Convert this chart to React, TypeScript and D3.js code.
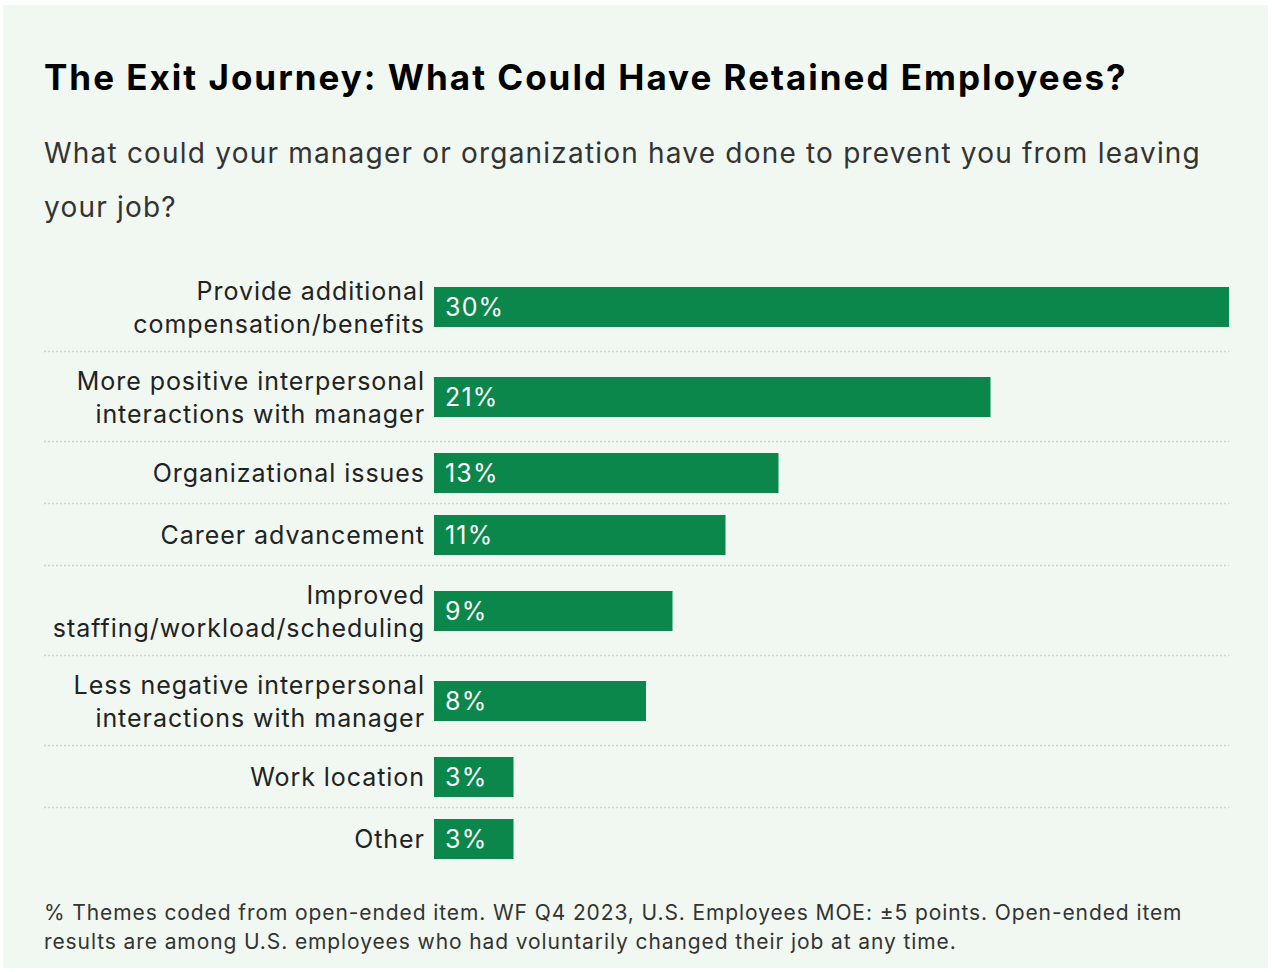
import React, { useEffect, useRef } from 'react';
import * as d3 from 'd3';

const categories = [
  'Provide additional\ncompensation/benefits',
  'More positive interpersonal\ninteractions with manager',
  'Organizational issues',
  'Career advancement',
  'Improved\nstaffing/workload/scheduling',
  'Less negative interpersonal\ninteractions with manager',
  'Work location',
  'Other',
];
const values = [30, 21, 13, 11, 9, 8, 3, 3];

const title = 'The Exit Journey: What Could Have Retained Employees?';
const subtitle = [
  'What could your manager or organization have done to prevent you from leaving',
  'your job?',
];
const footnote = [
  '% Themes coded from open-ended item. WF Q4 2023, U.S. Employees MOE: ±5 points. Open-ended item',
  'results are among U.S. employees who had voluntarily changed their job at any time.',
];

const W = 1272;
const H = 972;
const FONT = 'Inter, "Noto Sans", sans-serif';

const App: React.FC = () => {
  const svgRef = useRef<SVGSVGElement>(null);

  useEffect(() => {
    if (!svgRef.current) return;
    const svg = d3.select(svgRef.current);
    svg.selectAll('*').remove();

    svg.append('rect').attr('width', W).attr('height', H).attr('fill', '#ffffff');
    svg.append('rect')
      .attr('x', 3).attr('y', 5)
      .attr('width', 1265).attr('height', 963)
      .attr('fill', '#f1f8f1');

    // title + subtitle
    svg.append('text')
      .attr('x', 44).attr('y', 90)
      .style('font-family', FONT)
      .style('font-size', '35px')
      .style('font-weight', '700')
      .style('letter-spacing', '2px')
      .style('fill', '#000')
      .text(title);

    subtitle.forEach((line, i) => {
      svg.append('text')
        .attr('x', 44).attr('y', 163 + i * 54)
        .style('font-family', FONT)
        .style('font-size', '28px')
        .style('letter-spacing', '1.2px')
        .style('fill', '#333')
        .text(line);
    });

    // rows: two-line labels take a taller row
    const rowH = (c: string) => (c.includes('\n') ? 90 : 62);
    const tops: number[] = [];
    let acc = 262;
    categories.forEach((c) => { tops.push(acc); acc += rowH(c); });

    const x = d3.scaleLinear().domain([0, 30]).range([434, 1229]);
    const barH = 40;

    const g = svg.append('g');

    categories.forEach((c, i) => {
      const mid = tops[i] + rowH(c) / 2;
      const lines = c.split('\n');

      // separator under row (not after last)
      if (i < categories.length - 1) {
        g.append('line')
          .attr('x1', 44).attr('x2', 1229)
          .attr('y1', tops[i] + rowH(c) - 0.5).attr('y2', tops[i] + rowH(c) - 0.5)
          .attr('stroke', '#cfd3cf')
          .attr('stroke-width', 1.5)
          .attr('stroke-dasharray', '2,2');
      }

      g.append('rect')
        .attr('x', x(0)).attr('y', mid - barH / 2)
        .attr('width', x(values[i]) - x(0)).attr('height', barH)
        .attr('fill', '#0b874b');

      g.append('text')
        .attr('x', x(0) + 11).attr('y', mid)
        .attr('dy', '0.36em')
        .style('font-family', FONT)
        .style('font-size', '25px')
        .style('letter-spacing', '1.2px')
        .style('fill', '#fff')
        .text(`${values[i]}%`);

      const lineH = 33;
      lines.forEach((ln, j) => {
        g.append('text')
          .attr('x', 425)
          .attr('y', mid + (j - (lines.length - 1) / 2) * lineH)
          .attr('dy', '0.36em')
          .attr('text-anchor', 'end')
          .style('font-family', FONT)
          .style('font-size', '25px')
          .style('letter-spacing', '0.95px')
          .style('fill', '#222')
          .text(ln);
      });
    });

    footnote.forEach((line, i) => {
      svg.append('text')
        .attr('x', 44).attr('y', 920 + i * 29)
        .style('font-family', FONT)
        .style('font-size', '21px')
        .style('letter-spacing', '0.9px')
        .style('fill', '#333')
        .text(line);
    });
  }, []);

  return (
    <div style={{ position: 'absolute', left: 0, top: 0 }}>
      <svg ref={svgRef} width={W} height={H} style={{ display: 'block' }}></svg>
    </div>
  );
};

export default App;
